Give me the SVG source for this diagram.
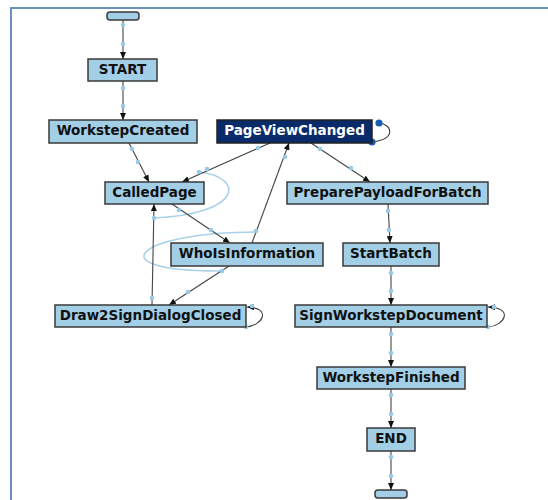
<svg xmlns="http://www.w3.org/2000/svg" width="548" height="500" viewBox="0 0 548 500">
<style>
.n rect{fill:#a3cfe6;stroke:#3a3a3a;stroke-width:1.5}
.n text{font-family:"DejaVu Sans",Verdana,sans-serif;font-weight:bold;font-size:13.5px;fill:#111;text-anchor:middle}
.dark rect{fill:#0a2b69;stroke:#222}
.dark text{fill:#fff}
.e{fill:none;stroke:#444;stroke-width:1.1}
.h{fill:none;stroke:#a9d2ea;stroke-width:1.6}
.d{fill:#98c9e5}
.bd{fill:#1a5cad}
</style>
<defs>
<marker id="ah" markerWidth="7" markerHeight="6" refX="7" refY="3" orient="auto" markerUnits="userSpaceOnUse">
<path d="M0,0 L7,3 L0,6 z" fill="#111"/>
</marker>
</defs>
<rect width="548" height="500" fill="#fff"/>
<path d="M11,500 L11,8 L548,8" fill="none" stroke="#6b90c0" stroke-width="2"/>
<g id="connectors">
<path class="h" d="M200,172 C245,178 243,214 153,218"/>
<path class="h" d="M256,232 C135,232 95,272 222,271"/>
<path class="e" marker-end="url(#ah)" d="M123,20 L123,59"/>
<path class="e" marker-end="url(#ah)" d="M123,81 L123,120"/>
<path class="e" marker-end="url(#ah)" d="M129,143 L149,182"/>
<path class="e" marker-end="url(#ah)" d="M270,143 L182,182"/>
<path class="e" marker-end="url(#ah)" d="M172,204 L230,243"/>
<path class="e" marker-end="url(#ah)" d="M252,243 L289,143"/>
<path class="e" marker-end="url(#ah)" d="M229,266 L169,305"/>
<path class="e" marker-end="url(#ah)" d="M152,305 L154,204"/>
<path class="e" marker-end="url(#ah)" d="M246,327 C262,326 273,308 247,307"/>
<path class="e" d="M379,123 C392,124 397,139 372,142"/>
<path class="e" marker-end="url(#ah)" d="M311,143 L370,182"/>
<path class="e" marker-end="url(#ah)" d="M388,204 L390,243"/>
<path class="e" marker-end="url(#ah)" d="M391,266 L391,305"/>
<path class="e" marker-end="url(#ah)" d="M488,327 C504,326 515,308 488,307"/>
<path class="e" marker-end="url(#ah)" d="M391,327 L391,367"/>
<path class="e" marker-end="url(#ah)" d="M391,389 L391,428"/>
<path class="e" marker-end="url(#ah)" d="M391,451 L391,490"/>
<g>
<circle class="d" cx="123" cy="25" r="2.3"/><circle class="d" cx="123" cy="44" r="2.3"/>
<circle class="d" cx="123" cy="88" r="2.3"/><circle class="d" cx="123" cy="106" r="2.3"/>
<circle class="d" cx="132" cy="149" r="2.3"/><circle class="d" cx="138" cy="162" r="2.3"/>
<circle class="d" cx="258" cy="148" r="2.3"/><circle class="d" cx="207" cy="169" r="2.3"/><circle class="d" cx="199" cy="172" r="2.3"/>
<circle class="d" cx="179" cy="210" r="2.3"/><circle class="d" cx="211" cy="230" r="2.3"/>
<circle class="d" cx="285" cy="157" r="2.3"/><circle class="d" cx="256" cy="231" r="2.3"/>
<circle class="d" cx="222" cy="271" r="2.3"/><circle class="d" cx="188" cy="292" r="2.3"/>
<circle class="d" cx="152" cy="298" r="2.3"/><circle class="d" cx="154" cy="218" r="2.3"/>
<circle class="d" cx="252" cy="306" r="2.3"/><circle class="d" cx="246" cy="327" r="2.3"/>
<circle class="d" cx="320" cy="149" r="2.3"/><circle class="d" cx="351" cy="168" r="2.3"/>
<circle class="d" cx="388" cy="211" r="2.3"/><circle class="d" cx="389" cy="230" r="2.3"/>
<circle class="d" cx="391" cy="273" r="2.3"/><circle class="d" cx="391" cy="291" r="2.3"/>
<circle class="d" cx="494" cy="307" r="2.3"/><circle class="d" cx="488" cy="327" r="2.3"/>
<circle class="d" cx="391" cy="334" r="2.3"/><circle class="d" cx="391" cy="353" r="2.3"/>
<circle class="d" cx="391" cy="395" r="2.3"/><circle class="d" cx="391" cy="414" r="2.3"/>
<circle class="d" cx="391" cy="457" r="2.3"/><circle class="d" cx="391" cy="476" r="2.3"/>
<circle class="bd" cx="379" cy="123" r="3.6"/><circle class="bd" cx="372" cy="142" r="3.6"/>
</g>
</g>
<g id="term-start" class="n"><rect x="107" y="12" width="32" height="8" rx="3"/></g>
<g id="START" class="n"><rect x="88" y="59" width="69" height="22"/><text x="122.5" y="73.5">START</text></g>
<g id="WorkstepCreated" class="n"><rect x="49" y="120" width="148" height="23"/><text x="123" y="134.5">WorkstepCreated</text></g>
<g id="PageViewChanged" class="n dark"><rect x="217" y="120" width="155" height="23"/><text x="294.5" y="134.5">PageViewChanged</text></g>
<g id="CalledPage" class="n"><rect x="105" y="182" width="99" height="22"/><text x="154.5" y="196.5">CalledPage</text></g>
<g id="PreparePayloadForBatch" class="n"><rect x="287" y="182" width="201" height="22"/><text x="387.5" y="196.5">PreparePayloadForBatch</text></g>
<g id="WhoIsInformation" class="n"><rect x="171" y="243" width="152" height="23"/><text x="247" y="257.5">WhoIsInformation</text></g>
<g id="StartBatch" class="n"><rect x="343" y="243" width="96" height="23"/><text x="391" y="257.5">StartBatch</text></g>
<g id="Draw2SignDialogClosed" class="n"><rect x="55" y="305" width="191" height="22"/><text x="150.5" y="319.5">Draw2SignDialogClosed</text></g>
<g id="SignWorkstepDocument" class="n"><rect x="295" y="305" width="192" height="22"/><text x="391" y="319.5">SignWorkstepDocument</text></g>
<g id="WorkstepFinished" class="n"><rect x="317" y="367" width="148" height="22"/><text x="391" y="381.5">WorkstepFinished</text></g>
<g id="END" class="n"><rect x="367" y="428" width="48" height="23"/><text x="391" y="442.5">END</text></g>
<g id="term-end" class="n"><rect x="375" y="490" width="32" height="8" rx="3"/></g>
</svg>
